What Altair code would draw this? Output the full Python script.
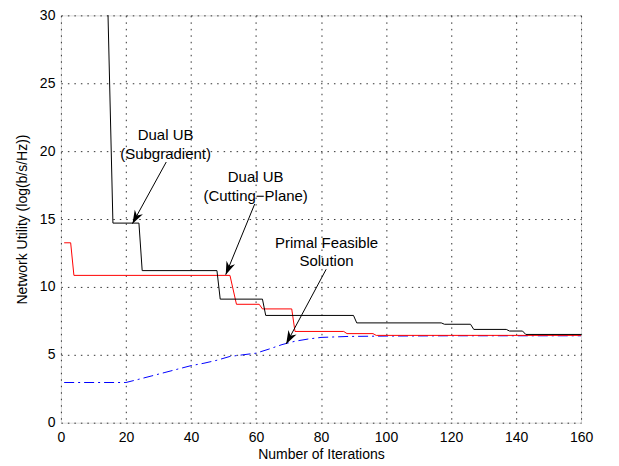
import math
import altair as alt
import pandas as pd

# ---- data ----
iters_sub = [1, 14, 16, 24, 25, 48, 49, 62, 63, 90, 91, 117, 118, 126, 127, 137, 138, 142, 143, 160]
util_sub = [60, 35, 14.7, 14.7, 11.2, 11.2, 9.1, 9.1, 7.9, 7.9, 7.35, 7.35, 7.25, 7.25, 6.87, 6.87, 6.75, 6.75, 6.5, 6.5]

iters_cp = [1, 3, 4, 52, 54, 61, 62, 71, 72, 87, 88, 96, 97, 160]
util_cp = [13.25, 13.25, 10.85, 10.85, 8.72, 8.72, 8.38, 8.38, 6.72, 6.72, 6.56, 6.56, 6.43, 6.43]

iters_pf = [1, 20, 24, 28, 32, 36, 40, 44, 48, 52, 56, 60, 64, 68, 72, 76, 80, 88, 100, 120, 160]
util_pf = [2.96, 2.96, 3.2, 3.45, 3.7, 3.95, 4.2, 4.38, 4.6, 4.88, 5.0, 5.12, 5.42, 5.75, 6.0, 6.16, 6.28, 6.35, 6.38, 6.4, 6.4]

note_text = ["Dual UB", "(Subgradient)", "Dual UB", "(Cutting\u2212Plane)", "Primal Feasible", "Solution"]
note_x = [32.2, 32.2, 59.9, 59.9, 81.7, 81.7]
note_y = [21.2, 19.8, 18.1, 16.7, 13.2, 11.9]

arrow_x0 = [32.4, 59.6, 81.6]
arrow_y0 = [19.2, 16.1, 11.3]
arrow_x1 = [22.0, 50.7, 69.3]
arrow_y1 = [14.66, 10.9, 5.8]

x_ticks = [0, 20, 40, 60, 80, 100, 120, 140, 160]
y_ticks = [0, 5, 10, 15, 20, 25, 30]

# ---- layout ----
W, H = 521, 408
XMAX, YMAX = 160, 30
FONT = "Liberation Sans"

xs = alt.Scale(domain=[0, XMAX], nice=False, zero=False)
ys = alt.Scale(domain=[0, YMAX], nice=False, zero=False)

xaxis = alt.Axis(values=x_ticks, grid=True, gridDash=[1.5, 5], gridColor="#333333", gridWidth=1,
                 ticks=False, domain=False, labelPadding=8, labelFontSize=14, labelFont=FONT,
                 labelColor="black", title="Number of Iterations", titleFont=FONT,
                 titleFontSize=14, titleFontWeight="normal", titleColor="black", titlePadding=3,
                 labelFlush=False)
yaxis = alt.Axis(values=y_ticks, grid=True, gridDash=[1.5, 5], gridColor="#333333", gridWidth=1,
                 ticks=False, domain=False, labelPadding=6, labelFontSize=14, labelFont=FONT,
                 labelColor="black", title="Network Utility (log(b/s/Hz))", titleFont=FONT,
                 titleFontSize=14, titleFontWeight="normal", titleColor="black", titlePadding=10,
                 labelFlush=False)

X = alt.X("x:Q", scale=xs, axis=xaxis)
Y = alt.Y("y:Q", scale=ys, axis=yaxis)

df_sub = pd.DataFrame({"x": iters_sub, "y": util_sub})
df_cp = pd.DataFrame({"x": iters_cp, "y": util_cp})
df_pf = pd.DataFrame({"x": iters_pf, "y": util_pf})
df_note = pd.DataFrame({"x": note_x, "y": note_y, "t": note_text})

sx = W / XMAX
sy = H / YMAX
angles = []
for a, b, c, d in zip(arrow_x0, arrow_y0, arrow_x1, arrow_y1):
    dx = (c - a) * sx
    dy = -(d - b) * sy
    angles.append(math.degrees(math.atan2(dx, -dy)) % 360)
df_arrow = pd.DataFrame({"x": arrow_x0, "y": arrow_y0, "xe": arrow_x1, "ye": arrow_y1})
df_head = pd.DataFrame({"x": arrow_x1, "y": arrow_y1, "ang": angles})

line_sub = alt.Chart(df_sub).mark_line(color="black", strokeWidth=1, clip=True).encode(x=X, y=Y)
line_cp = alt.Chart(df_cp).mark_line(color="#ff0000", strokeWidth=1, clip=True).encode(x=X, y=Y)
line_pf = alt.Chart(df_pf).mark_line(color="#0000ff", strokeWidth=1, strokeDash=[10, 4, 2, 4],
                                     clip=True).encode(x=X, y=Y)

notes = alt.Chart(df_note).mark_text(font=FONT, fontSize=15, color="black", align="center",
                                     baseline="middle").encode(x=X, y=Y, text="t:N")

shafts = alt.Chart(df_arrow).mark_rule(color="black", strokeWidth=1).encode(
    x=X, y=Y, x2="xe:Q", y2="ye:Q")

head_path = "M0,0 L0.45,1.3 L0,0.9 L-0.45,1.3 Z"
heads = alt.Chart(df_head).mark_point(shape=head_path, filled=True, size=420, color="black",
                                      opacity=1, strokeWidth=0).encode(
    x=X, y=Y, angle=alt.Angle("ang:Q", scale=None))

chart = alt.layer(line_pf, line_cp, line_sub, shafts, heads, notes).properties(
    width=W, height=H,
    autosize=alt.AutoSizeParams(type="none"),
    padding={"left": 53, "top": 7, "right": 30, "bottom": 43},
).configure_view(stroke="black", strokeWidth=1).configure(background="white")

chart.save("out.html", embed_options={"renderer": "svg", "actions": False})
